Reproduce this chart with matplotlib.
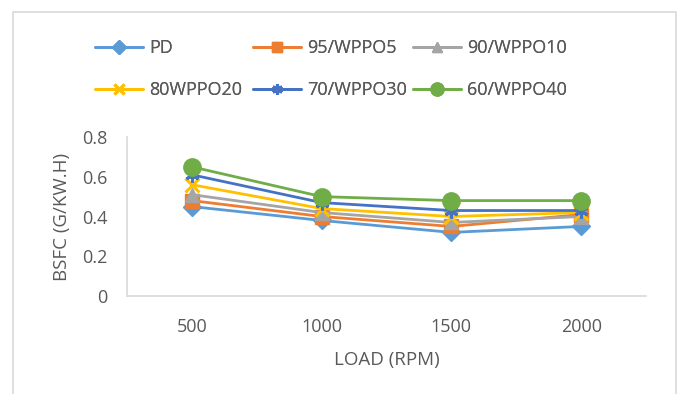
import matplotlib
matplotlib.use("Agg")
import matplotlib.pyplot as plt
from matplotlib.patches import Rectangle
import numpy as np

plt.rcParams['font.family'] = ['Open Sans', 'DejaVu Sans']

loads = ["500", "1000", "1500", "2000"]
series_names = ["PD", "95/WPPO5", "90/WPPO10", "80WPPO20", "70/WPPO30", "60/WPPO40"]
pd_vals = [0.45, 0.38, 0.32, 0.35]
wppo5 = [0.48, 0.40, 0.35, 0.41]
wppo10 = [0.51, 0.42, 0.37, 0.40]
wppo20 = [0.56, 0.44, 0.40, 0.42]
wppo30 = [0.61, 0.47, 0.43, 0.43]
wppo40 = [0.65, 0.50, 0.48, 0.48]
yticks = [0, 0.2, 0.4, 0.6, 0.8]
ytick_labels = ["0", "0.2", "0.4", "0.6", "0.8"]

values = [pd_vals, wppo5, wppo10, wppo20, wppo30, wppo40]
colors = ["#5B9BD5", "#ED7D31", "#A5A5A5", "#FFC000", "#4472C4", "#70AD47"]
markers = ["D", "s", "^", "x", (6, 2, 0), "o"]
msizes = [9, 10, 10, 10, 10, 12.5]
text_col = "#595959"

W, H = 678, 394
fig = plt.figure(figsize=(W / 100, H / 100), dpi=100)
fig.patch.set_facecolor("white")
fig.patches.append(Rectangle((12.5 / W, -0.05), (675.5 - 12.5) / W, 1.05 - 11.5 / H,
                             transform=fig.transFigure, fill=False,
                             edgecolor="#D9D9D9", lw=1.2))

ax = fig.add_axes([127 / W, 1 - 296 / H, (646 - 127) / W, (296 - 137) / H])
x = np.arange(len(loads))
handles = []
for vals, c, m, ms, name in zip(values, colors, markers, msizes, series_names):
    h, = ax.plot(x, vals, color=c, lw=2, marker=m, markersize=ms,
                 markerfacecolor=c, markeredgecolor=c,
                 markeredgewidth=2.2 if m in ("x", (6, 2, 0)) else 1,
                 label=name, solid_capstyle="round")
    handles.append(h)

ax.set_xlim(-0.5, len(loads) - 0.5)
ax.set_ylim(0, 0.8)
ax.set_xticks(x)
ax.set_xticklabels(loads)
ax.set_yticks(yticks)
ax.set_yticklabels(ytick_labels)
ax.tick_params(axis="both", length=0, colors=text_col, labelsize=13)
ax.tick_params(axis="x", pad=16)
ax.tick_params(axis="y", pad=14)
for s in ["top", "right"]:
    ax.spines[s].set_visible(False)
for s in ["left", "bottom"]:
    ax.spines[s].set_color("#D9D9D9")
    ax.spines[s].set_linewidth(1.2)
ax.set_xlabel("LOAD (RPM)", color=text_col, fontsize=13.5, labelpad=11)
ax.set_ylabel("BSFC (G/KW.H)", color=text_col, fontsize=13.5, labelpad=8)

# legend: three columns, each with two rows
col_x = [95, 253, 413]
for i, cx in enumerate(col_x):
    hs = [handles[i], handles[i + 3]]
    leg = fig.legend(hs, [h.get_label() for h in hs], loc="upper left",
                     bbox_to_anchor=(cx / W, 1 - 39 / H), frameon=False,
                     fontsize=13, handlelength=2.65, handletextpad=0.35,
                     labelspacing=1.32, markerscale=0.75, borderaxespad=0,
                     borderpad=0)
    for t in leg.get_texts():
        t.set_color(text_col)
    fig.add_artist(leg)

fig.savefig("out.png", dpi=100)
